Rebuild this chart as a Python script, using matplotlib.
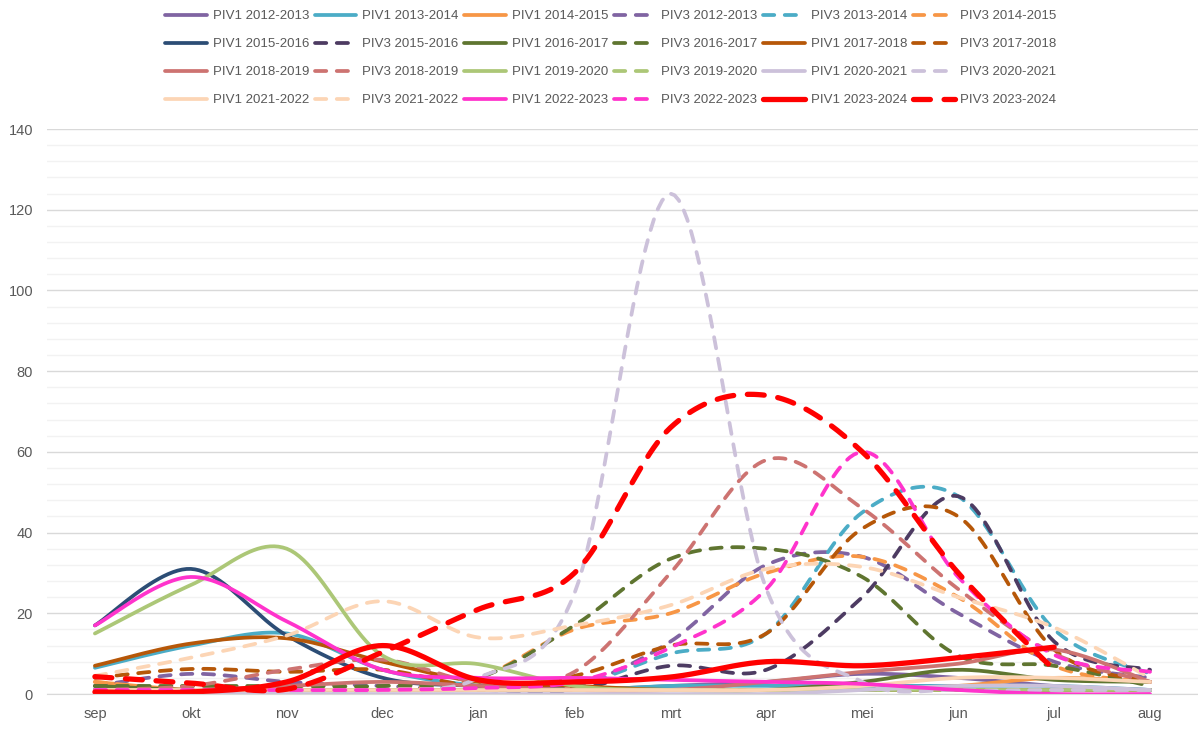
import numpy as np
import matplotlib
matplotlib.use("Agg")
import matplotlib.pyplot as plt
from matplotlib.ticker import MultipleLocator

plt.rcParams['font.family'] = ['Liberation Sans', 'DejaVu Sans']

months = ['sep', 'okt', 'nov', 'dec', 'jan', 'feb', 'mrt', 'apr', 'mei', 'jun', 'jul', 'aug']

# values (per month, sep .. aug)
piv1_2012_2013 = [1, 1, 1, 1, 1, 1, 2, 3, 5, 4, 2, 1]
piv1_2013_2014 = [6.5, 12, 15, 6, 2, 1, 2, 2, 2, 2, 2, 1]
piv1_2014_2015 = [3, 1, 1, 1, 1, 1, 1, 1, 1, 2, 4, 3]
piv3_2012_2013 = [2, 5, 3, 2, 1, 2, 13, 32, 34, 20, 8, 4]
piv3_2013_2014 = [1, 1, 1, 1, 1, 2, 10, 15, 45, 49, 16, 5]
piv3_2014_2015 = [3, 1, 1, 1, 4, 16, 20, 30, 34, 24, 7, 3]
piv1_2015_2016 = [17, 31, 14.5, 4, 2, 1, 1, 1, 1, 1, 1, 1]
piv3_2015_2016 = [1, 1, 1, 1, 1, 1, 7, 6, 24, 49, 13, 6]
piv1_2016_2017 = [2, 1, 1, 1, 1, 1, 1, 1, 3, 6, 3.5, 3]
piv3_2016_2017 = [2, 2, 2, 2, 4, 17, 33.5, 36, 29, 9.5, 7, 2]
piv1_2017_2018 = [7, 12.5, 13.8, 8, 3, 2, 1, 1, 1, 1, 1, 1]
piv3_2017_2018 = [4, 6.2, 5.5, 6, 2, 4.5, 12, 15, 41, 44, 11, 3]
piv1_2018_2019 = [1, 1, 2, 3, 2, 1, 1, 3, 5.5, 7.5, 11, 3]
piv3_2018_2019 = [1, 2, 6, 8.5, 3, 5.5, 30, 58, 46, 26, 10, 3]
piv1_2019_2020 = [15, 27, 36, 9.5, 7.4, 2, 1, 1, 1, 1, 1, 1]
piv3_2019_2020 = [1, 1, 1, 1, 1, 1, 1, 1, 1, 1, 1, 1]
piv1_2020_2021 = [0, 0, 0, 0, 0, 0, 0, 0, 1, 2, 2, 1]
piv3_2020_2021 = [0, 0, 0, 1, 4, 25, 124, 26, 3, 1, 1, 1]
piv1_2021_2022 = [1, 1, 1, 1, 1, 1, 1, 1, 2, 4, 4, 3]
piv3_2021_2022 = [4.5, 9, 14.5, 23, 14, 17, 22, 31, 31.5, 24, 16.5, 4]
piv1_2022_2023 = [17, 29, 18, 6, 4, 4, 3.5, 3, 2.5, 1, 0, 0]
piv3_2022_2023 = [1, 1, 1, 1, 1.5, 3, 11.5, 26, 60, 29, 9.7, 5.5]
piv1_2023_2024 = [0.5, 0.5, 3, 12, 3.5, 3, 4.2, 8, 7, 9, 11.6]
piv3_2023_2024 = [4.3, 2.7, 1.2, 10.4, 21, 30, 66, 74, 60, 30, 6]

series = [
    ('PIV1 2012-2013', piv1_2012_2013, '#8064A2', False),
    ('PIV1 2013-2014', piv1_2013_2014, '#4BACC6', False),
    ('PIV1 2014-2015', piv1_2014_2015, '#F79646', False),
    ('PIV3 2012-2013', piv3_2012_2013, '#8064A2', True),
    ('PIV3 2013-2014', piv3_2013_2014, '#4BACC6', True),
    ('PIV3 2014-2015', piv3_2014_2015, '#F79646', True),
    ('PIV1 2015-2016', piv1_2015_2016, '#2C4D75', False),
    ('PIV3 2015-2016', piv3_2015_2016, '#4D3B62', True),
    ('PIV1 2016-2017', piv1_2016_2017, '#5F7530', False),
    ('PIV3 2016-2017', piv3_2016_2017, '#5F7530', True),
    ('PIV1 2017-2018', piv1_2017_2018, '#B65708', False),
    ('PIV3 2017-2018', piv3_2017_2018, '#B65708', True),
    ('PIV1 2018-2019', piv1_2018_2019, '#CD7371', False),
    ('PIV3 2018-2019', piv3_2018_2019, '#CD7371', True),
    ('PIV1 2019-2020', piv1_2019_2020, '#ACC777', False),
    ('PIV3 2019-2020', piv3_2019_2020, '#ACC777', True),
    ('PIV1 2020-2021', piv1_2020_2021, '#CCC1DA', False),
    ('PIV3 2020-2021', piv3_2020_2021, '#CCC1DA', True),
    ('PIV1 2021-2022', piv1_2021_2022, '#FCD5B5', False),
    ('PIV3 2021-2022', piv3_2021_2022, '#FCD5B5', True),
    ('PIV1 2022-2023', piv1_2022_2023, '#FF33CC', False),
    ('PIV3 2022-2023', piv3_2022_2023, '#FF33CC', True),
    ('PIV1 2023-2024', piv1_2023_2024, '#FF0000', False),
    ('PIV3 2023-2024', piv3_2023_2024, '#FF0000', True),
]


def smooth(x, y, n=24):
    # Excel-style smoothed line (Catmull-Rom through the data points)
    pts = np.column_stack([x, y]).astype(float)
    p = np.vstack([pts[0], pts, pts[-1]])
    t = np.linspace(0, 1, n)[:, None]
    out = []
    for i in range(1, len(p) - 2):
        p0, p1, p2, p3 = p[i - 1], p[i], p[i + 1], p[i + 2]
        c1 = p1 + (p2 - p0) / 6
        c2 = p2 - (p3 - p1) / 6
        seg = (1 - t) ** 3 * p1 + 3 * (1 - t) ** 2 * t * c1 + 3 * (1 - t) * t ** 2 * c2 + t ** 3 * p2
        out.append(seg if i == 1 else seg[1:])
    out = np.vstack(out)
    return out[:, 0], out[:, 1]


fig = plt.figure(figsize=(11.98, 7.29), dpi=100)
ax = fig.add_axes([0.0392, 0.048, 0.9608, 0.775])

handles = []
for label, vals, color, dashed in series:
    x = np.arange(len(vals))
    sx, sy = smooth(x, vals)
    red = color == '#FF0000'
    lw = 3.8 if red else 2.7
    line, = ax.plot(sx, sy, color=color, lw=lw, label=label,
                    solid_capstyle='round', dash_capstyle='round')
    if dashed:
        line.set_dashes((3.2, 2.6) if red else (3.0, 2.8))
    handles.append(line)

ax.set_xlim(-0.5, 11.5)
ax.set_ylim(0, 140)
ax.set_xticks(range(len(months)))
ax.set_xticklabels(months)
ax.yaxis.set_major_locator(MultipleLocator(20))
ax.yaxis.set_minor_locator(MultipleLocator(4))
ax.grid(which='major', axis='y', color='#D9D9D9', lw=1)
ax.grid(which='minor', axis='y', color='#F2F2F2', lw=1)
ax.set_axisbelow(True)
ax.tick_params(axis='both', which='both', length=0, labelsize=10.5, colors='#595959')
ax.tick_params(axis='y', pad=10)
ax.tick_params(axis='x', pad=9)
for s in ['top', 'right', 'left']:
    ax.spines[s].set_visible(False)
ax.spines['bottom'].set_color('#D9D9D9')

# legend is row-major in the original: reorder for matplotlib's column-major fill
ncol = 6
nrow = int(np.ceil(len(handles) / ncol))
order = [r * ncol + c for c in range(ncol) for r in range(nrow)]
fig.legend([handles[i] for i in order], [handles[i].get_label() for i in order],
           ncol=ncol, loc='upper center', bbox_to_anchor=(0.51, 1.0),
           frameon=False, fontsize=9.5, handlelength=3.15, handletextpad=0.44,
           columnspacing=0.44, labelspacing=1.2, labelcolor='#595959',
           borderaxespad=0.35)

fig.savefig('out.png', dpi=100, facecolor='white')
